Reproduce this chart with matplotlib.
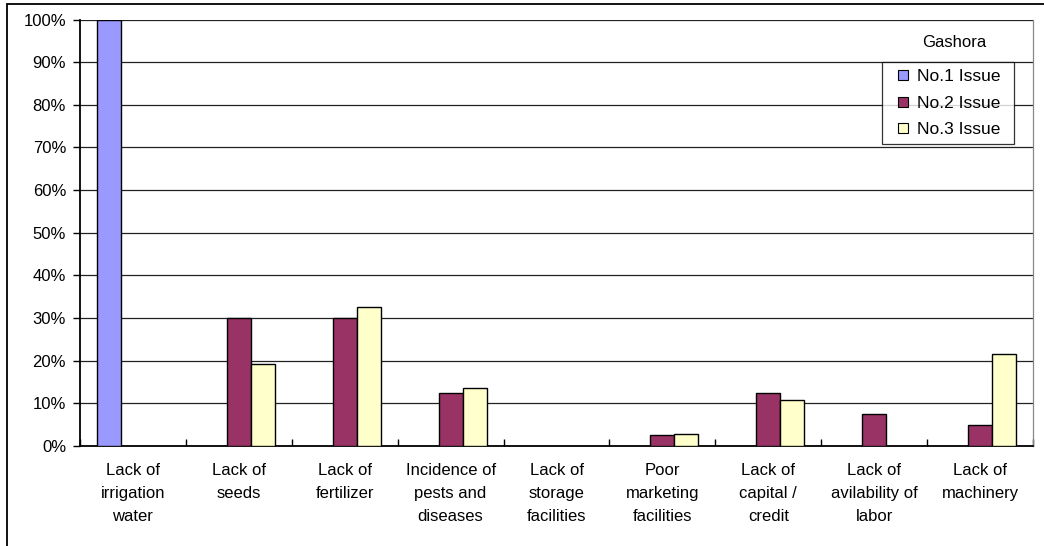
import numpy as np
import matplotlib
matplotlib.use("Agg")
import matplotlib.pyplot as plt
from matplotlib.patches import Rectangle
from matplotlib.lines import Line2D
from matplotlib.ticker import MultipleLocator, PercentFormatter

plt.rcParams["font.family"] = ["Liberation Sans", "DejaVu Sans"]

# ── data ────────────────────────────────────────────────────────────────
categories = [
    "Lack of\nirrigation\nwater",
    "Lack of\nseeds",
    "Lack of\nfertilizer",
    "Incidence of\npests and\ndiseases",
    "Lack of\nstorage\nfacilities",
    "Poor\nmarketing\nfacilities",
    "Lack of\ncapital /\ncredit",
    "Lack of\navilability of\nlabor",
    "Lack of\nmachinery",
]
series_names = ["No.1 Issue", "No.2 Issue", "No.3 Issue"]
issue1 = [100, 0, 0, 0, 0, 0, 0, 0, 0]
issue2 = [0, 30, 30, 12.5, 0, 2.5, 12.5, 7.5, 5]
issue3 = [0, 19.2, 32.5, 13.5, 0, 2.9, 10.9, 0, 21.6]
colors = ["#9999FF", "#993366", "#FFFFCC"]

FS = 12

# ── figure ──────────────────────────────────────────────────────────────
fig = plt.figure(figsize=(10.44, 5.46), dpi=100)
ax = fig.add_axes([80 / 1044, 1 - 446 / 546, 953 / 1044, 426.5 / 546])

# outer frame of the chart area
fig.patches.append(Rectangle((7 / 1044, -0.5), 2, 0.5 + (546 - 4) / 546,
                             transform=fig.transFigure, fill=False,
                             edgecolor="black", linewidth=1.3))

x = np.arange(len(categories))
w = 0.227
for i, (vals, c) in enumerate(zip([issue1, issue2, issue3], colors)):
    vals = np.array(vals, dtype=float)
    mask = vals > 0
    ax.bar(x[mask] + (i - 1) * w, vals[mask], width=w, color=c,
           edgecolor="black", linewidth=1.0, zorder=3)

ax.set_xlim(-0.5, len(categories) - 0.5)
ax.set_ylim(0, 100)
ax.yaxis.set_major_locator(MultipleLocator(10))
ax.yaxis.set_major_formatter(PercentFormatter(decimals=0))
ax.grid(axis="y", color="#222222", linewidth=0.9, zorder=0)

ax.set_xticks(x)
ax.set_xticklabels(categories, fontsize=FS, linespacing=1.7)
ax.tick_params(axis="x", length=0, pad=12)
ax.set_xticks(np.arange(len(categories) + 1) - 0.5, minor=True)
ax.tick_params(axis="x", which="minor", direction="in", length=5, width=1)
ax.tick_params(axis="y", labelsize=FS, length=5, width=1, pad=5)

for s in ["left", "bottom"]:
    ax.spines[s].set_color("black")
    ax.spines[s].set_linewidth(1.3)
ax.spines["top"].set_visible(False)
ax.spines["right"].set_color("#888888")
ax.spines["right"].set_linewidth(0.9)

# legend: small square swatches, box stretched to a fixed width
handles = [Line2D([], [], linestyle="none", marker="s", markersize=7.5,
                  markerfacecolor=c, markeredgecolor="black", markeredgewidth=0.8)
           for c in colors]
leg = ax.legend(handles, series_names, loc="upper left", mode="expand",
                bbox_to_anchor=(882 / 1044, 1 - 146 / 546, 132 / 1044, 84 / 546),
                bbox_transform=fig.transFigure,
                fontsize=12.5, frameon=True, fancybox=False, borderpad=0.4,
                handlelength=1.6, handletextpad=0.0,
                labelspacing=0.66, borderaxespad=0)
leg.get_frame().set_edgecolor("black")
leg.get_frame().set_linewidth(0.9)
fig.text(954 / 1044, 1 - 43 / 546, "Gashora", ha="center", va="center", fontsize=FS)

fig.savefig("out.png", dpi=100)
